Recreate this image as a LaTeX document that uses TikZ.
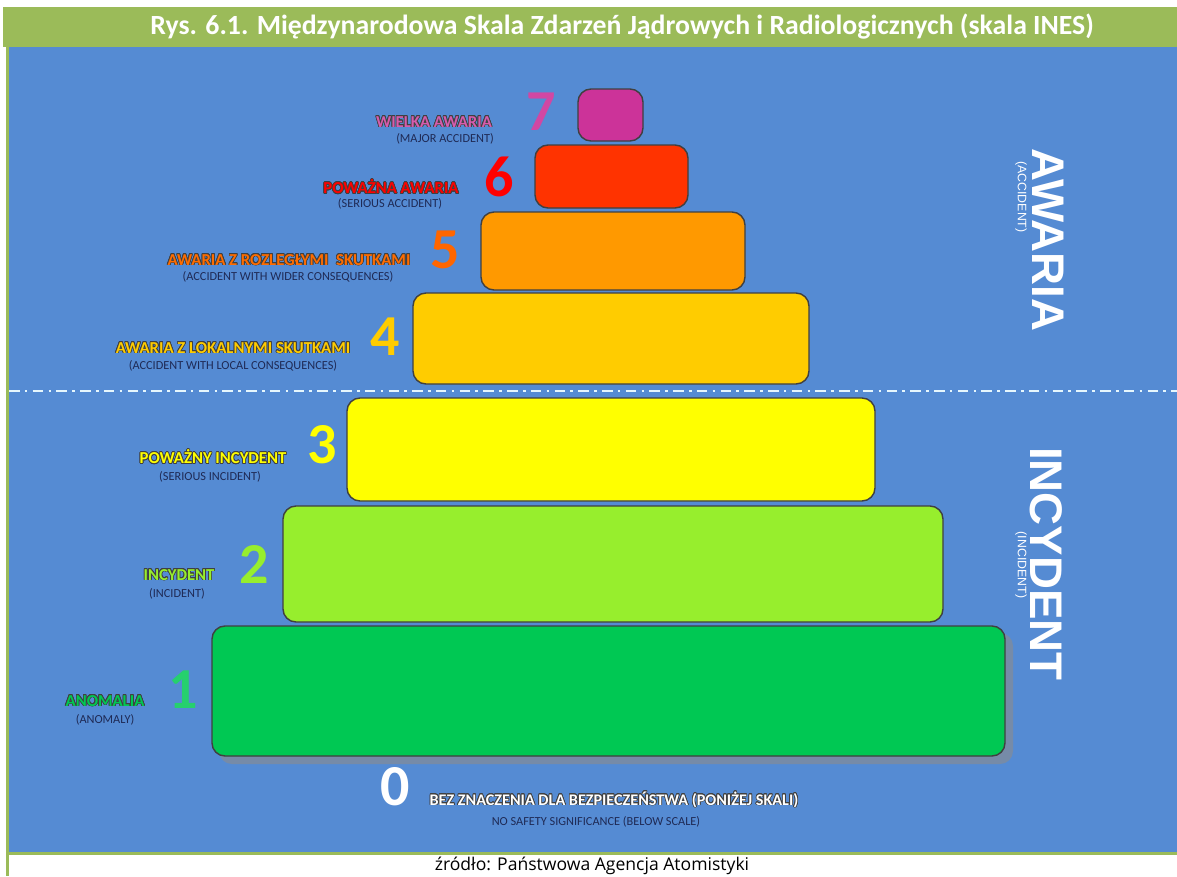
\documentclass[tikz,border=0pt]{standalone}
\usepackage{fontspec}
\usepackage{contour}
\setmainfont{Carlito}
\newfontfamily\arialfont{Liberation Sans}
\newfontfamily\srcfont{Open Sans}
\contourlength{0.4pt}
\newcommand{\lvtext}[1]{\contour{black!75}{#1}}
\definecolor{barGreen}{HTML}{9BBB59}
\definecolor{panelBlue}{HTML}{558BD3}
\definecolor{lvSeven}{HTML}{CC3399}
\definecolor{lvSix}{HTML}{FF3300}
\definecolor{lvFive}{HTML}{FF9900}
\definecolor{lvFour}{HTML}{FFCC00}
\definecolor{lvThree}{HTML}{FFFF00}
\definecolor{lvTwo}{HTML}{97EE2D}
\definecolor{lvOne}{HTML}{00C853}
\definecolor{subNavy}{HTML}{1F2A55}
\tikzset{
  lvbox/.style={draw=black!75, line width=0.8pt, rounded corners=0.26cm},
  lvnum/.style={font=\bfseries\fontsize{33}{33}\selectfont, inner sep=0pt},
  lvlab/.style={font=\bfseries\fontsize{9.5}{10}\selectfont, inner sep=0pt},
  lvsub/.style={font=\fontsize{7}{7.5}\selectfont, text=subNavy, inner sep=0pt},
  sidelab/.style={font=\arialfont\bfseries\fontsize{26}{26}\selectfont, text=white, rotate=-90, inner sep=0pt},
  sidesub/.style={font=\arialfont\fontsize{7}{7}\selectfont, text=white, rotate=-90, inner sep=0pt}
}
\begin{document}
\begin{tikzpicture}[x=0.02cm, y=-0.02cm]
  \useasboundingbox (0,0) rectangle (1177,876);
  % frame
  \fill[barGreen] (3,7) rectangle (1177,47);
  \fill[panelBlue] (9,47) rectangle (1177,852);
  \fill[barGreen] (6,47) rectangle (9,876);
  \fill[barGreen] (6,852) rectangle (1177,855);
  \node[text=white, font=\bfseries\fontsize{15.8}{16}\selectfont] (title) at (622,27)
    {Rys. 6.1. Międzynarodowa Skala Zdarzeń Jądrowych i Radiologicznych (skala INES)};

  % the pyramid
  \fill[black!45, opacity=0.6, rounded corners=0.26cm] (219,633) rectangle (1013,764);
  \draw[lvbox, fill=lvOne] (212,626) rectangle (1005,756);
  \draw[lvbox, fill=lvTwo] (283,506) rectangle (943,622);
  \draw[lvbox, fill=lvThree] (347,398) rectangle (875,501);
  \draw[lvbox, fill=lvFour] (413,293) rectangle (809,384);
  \draw[lvbox, fill=lvFive] (481,212) rectangle (745,290);
  \draw[lvbox, fill=lvSix] (535,145) rectangle (688,208);
  \draw[lvbox, fill=lvSeven] (578,89) rectangle (643,141);

  % border between accidents and incidents
  \coordinate (cutL) at (9,391);
  \coordinate (cutR) at (1177,391);
  \draw[white!90!cyan, line width=1.2pt, dash pattern=on 6pt off 3pt on 1.5pt off 3pt] (cutL) -- (cutR);

  % numbers
  \node[lvnum, text=lvSeven!90!white] (num7) at (541,112) {7};
  \node[lvnum, text=red] (num6) at (499,177) {6};
  \node[lvnum, text=orange!80!red] (num5) at (445,250) {5};
  \node[lvnum, text=lvFour] (num4) at (385,337) {4};
  \node[lvnum, text=lvThree] (num3) at (322,445) {3};
  \node[lvnum, text=lvTwo] (num2) at (254,564) {2};
  \node[lvnum, text=lvOne!85!white] (num1) at (183,690) {1};
  \node[lvnum, text=white] (num0) at (395,787) {0};

  % labels
  \node[lvlab, text=lvSeven!80!white] (lab7) at (434,122) {\lvtext{WIELKA AWARIA}};
  \node[lvsub] (sub7) at (445,139) {(MAJOR ACCIDENT)};
  \node[lvlab, text=red] (lab6) at (391,187) {\lvtext{POWAŻNA AWARIA}};
  \node[lvsub] (sub6) at (390,204) {(SERIOUS ACCIDENT)};
  \node[lvlab, text=orange!85!red] (lab5) at (289,260) {\lvtext{AWARIA Z ROZLEGŁYMI\ \ SKUTKAMI}};
  \node[lvsub] (sub5) at (288,277) {(ACCIDENT WITH WIDER CONSEQUENCES)};
  \node[lvlab, text=lvFour] (lab4) at (233,348) {\lvtext{AWARIA Z LOKALNYMI SKUTKAMI}};
  \node[lvsub] (sub4) at (233,366) {(ACCIDENT WITH LOCAL CONSEQUENCES)};
  \node[lvlab, text=lvThree] (lab3) at (213,457) {\lvtext{POWAŻNY INCYDENT}};
  \node[lvsub] (sub3) at (210,477) {(SERIOUS INCIDENT)};
  \node[lvlab, text=lvTwo] (lab2) at (179,575) {\lvtext{INCYDENT}};
  \node[lvsub] (sub2) at (177,594) {(INCIDENT)};
  \node[lvlab, text=lvOne] (lab1) at (105,701) {\lvtext{ANOMALIA}};
  \node[lvsub] (sub1) at (105,720) {(ANOMALY)};
  \node[lvlab, text=white, font=\bfseries\fontsize{9.2}{10}\selectfont] (lab0) at (614,800) {\lvtext{BEZ ZNACZENIA DLA BEZPIECZEŃSTWA (PONIŻEJ SKALI)}};
  \node[lvsub] (sub0) at (596,822) {NO SAFETY SIGNIFICANCE (BELOW SCALE)};

  % side captions
  \node[sidelab] (awaria) at (1048,240) {AWARIA};
  \node[sidesub] (accident) at (1021,197) {(ACCIDENT)};
  \node[sidelab] (incydent) at (1046,564) {INCYDENT};
  \node[sidesub] (incident) at (1021,565) {(INCIDENT)};

  \node[font=\srcfont\fontsize{10}{11}\selectfont] (source) at (592,866) {źródło: Państwowa Agencja Atomistyki};
\end{tikzpicture}
\end{document}
